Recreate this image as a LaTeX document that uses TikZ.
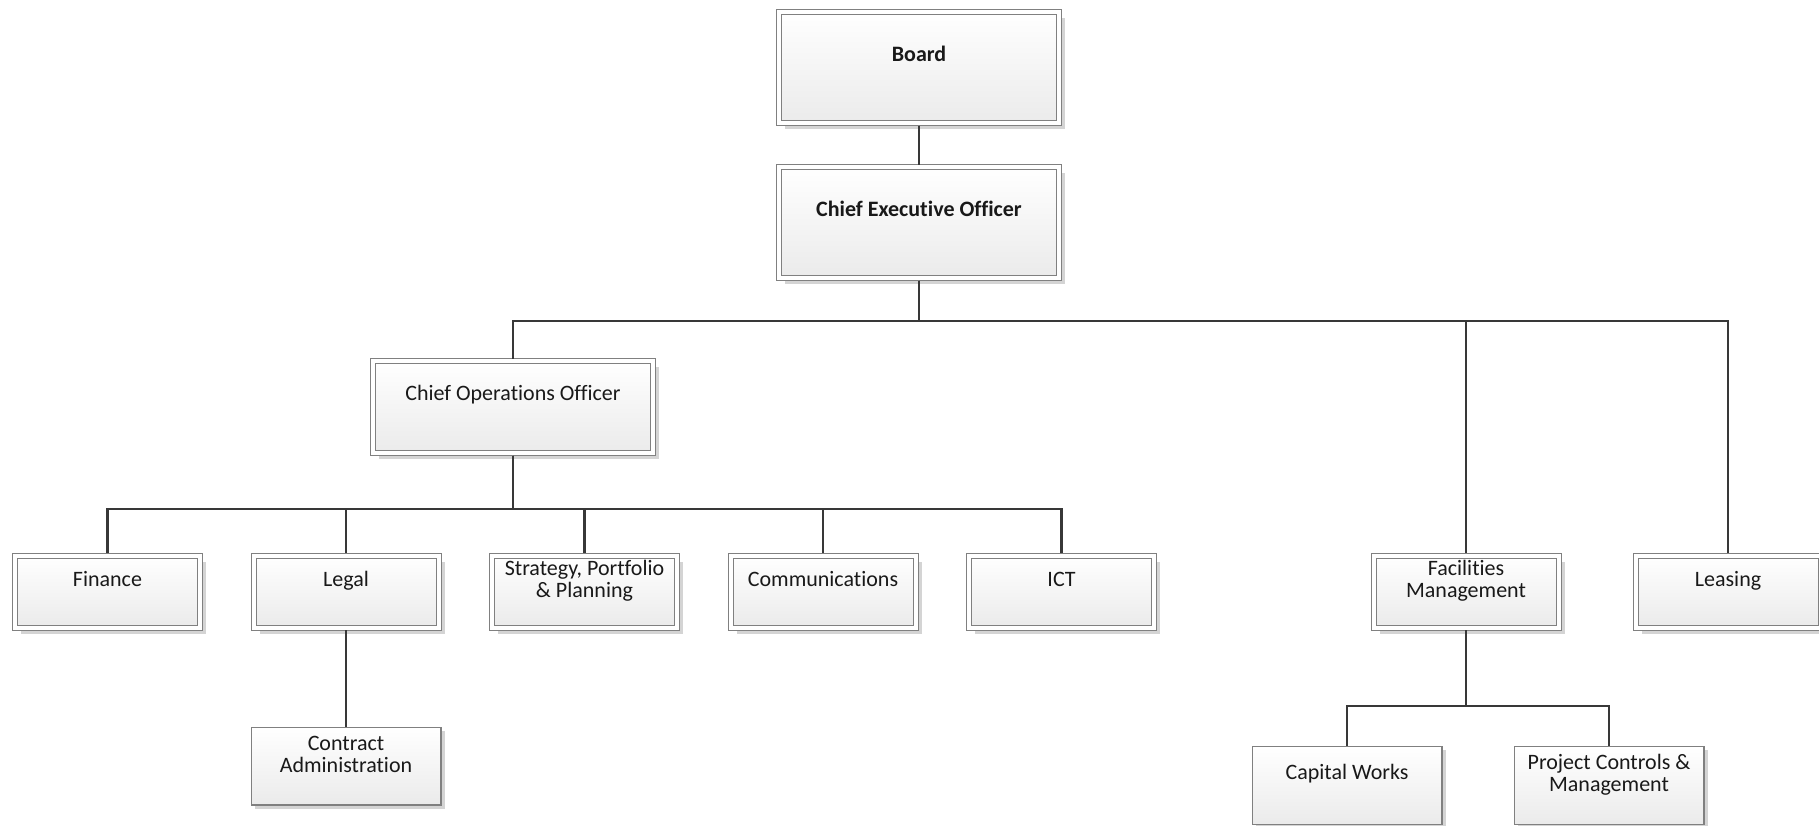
\documentclass[tikz,border=0pt]{standalone}
\usepackage{fontspec}
\setmainfont{Carlito}[Ligatures=CommonOff]
\usetikzlibrary{shadows}

\begin{document}
\begin{tikzpicture}[x=0.5pt, y=-0.5pt,
    post/.style={top color=white, bottom color=black!8, text=black!90, align=center, inner sep=0pt, font=\fontsize{11}{11}\selectfont},
    boxed/.style={post, draw=black!50, line width=0.5pt, double=white, double distance=2pt,
      drop shadow={shadow xshift=3pt, shadow yshift=-3pt, fill=black!17, opacity=1}},
    head/.style={boxed, minimum width=140pt, font=\fontsize{11}{11}\selectfont\bfseries, text height=24.8pt, text depth=30.7pt},
    office/.style={boxed, minimum width=140pt, text height=19.8pt, text depth=26.2pt},
    dept/.style={boxed, minimum width=92.5pt, text height=15.3pt, text depth=20.7pt},
    twoline/.style={text height=21pt, text depth=15pt},
    team/.style={post, draw=black!50, line width=0.6pt, minimum width=94.9pt, text height=22.5pt, text depth=16.4pt,
      drop shadow={shadow xshift=1.8pt, shadow yshift=-1.8pt, fill=black!17, opacity=1}},
    link/.style={draw=black!78, line width=1.4pt, shorten <=1pt, shorten >=1pt}]
  \useasboundingbox (0,0) rectangle (1819,825);

  \node[head] (board) at (919,67.5) {Board};
  \node[head] (ceo) at (919,222.5) {Chief Executive Officer};
  \node[office] (coo) at (513,407) {Chief Operations Officer};

  \node[dept] (fin) at (107.5,591.5) {Finance};
  \node[dept] (legal) at (346,591.5) {Legal};
  \node[dept, twoline] (strat) at (584.5,591.5) {Strategy, Portfolio\\ \& Planning};
  \node[dept] (comms) at (823,591.5) {Communications};
  \node[dept] (ict) at (1061.5,591.5) {ICT};
  \node[dept, twoline] (fm) at (1466,591.5) {Facilities\\ Management};
  \node[dept] (leasing) at (1728,591.5) {Leasing};

  \node[team] (contract) at (346,766) {Contract\\ Administration};
  \node[team, text height=16.5pt, text depth=22.4pt] (capital) at (1347,785.5) {Capital Works};
  \node[team] (project) at (1609,785.5) {Project Controls \&\\ Management};

  \coordinate (ceobus) at (919,321);
  \coordinate (coobus) at (513,509);
  \coordinate (fmbus) at (1466,706);

  \draw[link] (board) -- (ceo);
  \foreach \n in {coo,fm,leasing}
    \draw[link] (ceo.south) -- (ceobus) -| (\n.north);
  \foreach \n in {fin,legal,strat,comms,ict}
    \draw[link] (coo.south) -- (coobus) -| (\n.north);
  \draw[link, shorten >=0pt] (legal) -- (contract);
  \foreach \n in {capital,project}
    \draw[link, shorten >=0pt] (fm.south) -- (fmbus) -| (\n.north);
\end{tikzpicture}
\end{document}
